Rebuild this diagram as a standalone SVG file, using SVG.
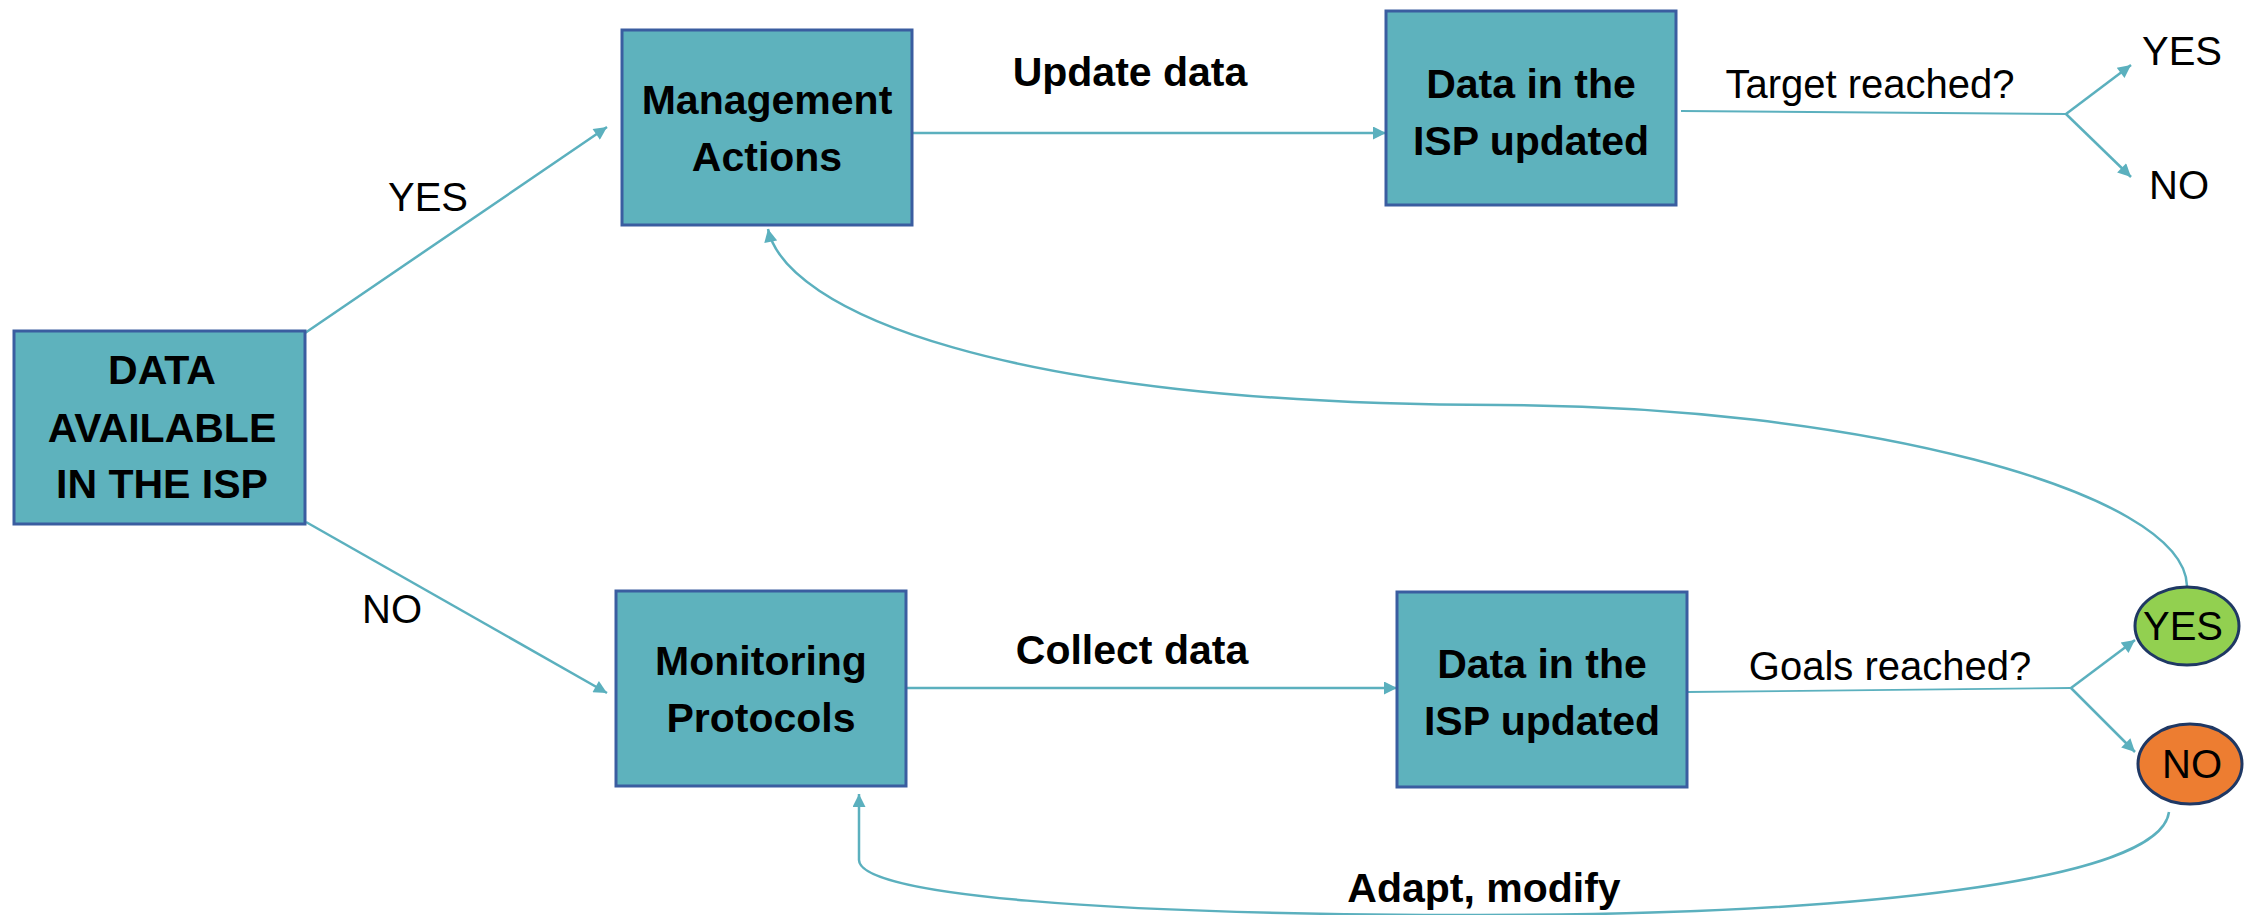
<svg xmlns="http://www.w3.org/2000/svg" width="2249" height="915" viewBox="0 0 2249 915">
<style>
.box{fill:#5EB2BD;stroke:#3A5DA0;stroke-width:3}
.b{font-family:"Liberation Sans",Arial,sans-serif;font-weight:bold;font-size:41px;fill:#000;text-anchor:middle}
.r{font-family:"Liberation Sans",Arial,sans-serif;font-size:40px;fill:#000;text-anchor:middle}
.c{fill:none;stroke:#5BB0BE;stroke-width:2.5}
.t{fill:none;stroke:#5BB0BE;stroke-width:1.8}
</style>
<defs>
<marker id="ah" viewBox="0 0 10 10" refX="10" refY="5" markerWidth="18" markerHeight="13" markerUnits="userSpaceOnUse" orient="auto">
<path d="M0,0 L10,5 L0,10 z" fill="#5BB0BE"/>
</marker>
</defs>
<rect width="2249" height="915" fill="#fff"/>
<g id="connectors">
<path class="c" d="M305,333 L607,127" marker-end="url(#ah)"/>
<path class="c" d="M306,522 L607,693" marker-end="url(#ah)"/>
<path class="c" d="M912,133 L1386,133" marker-end="url(#ah)"/>
<path class="c" d="M906,688 L1397,688" marker-end="url(#ah)"/>
<path class="t" d="M1681,111 L2066,114"/>
<path class="c" d="M2066,114 L2131,65" marker-end="url(#ah)"/>
<path class="c" d="M2066,114 L2131,177" marker-end="url(#ah)"/>
<path class="t" d="M1687,692 L2071,688"/>
<path class="c" d="M2071,688 L2135,640" marker-end="url(#ah)"/>
<path class="c" d="M2071,688 L2135,752" marker-end="url(#ah)"/>
<path class="c" d="M2187,586 C2185,490 1850,405 1500,405 C1000,405 785,310 768,229" marker-end="url(#ah)"/>
<path class="c" d="M2169,812 C2160,882 1850,915 1480,915 C1100,915 859,895 859,860 L859,794" marker-end="url(#ah)"/>
</g>
<g id="data-available">
<rect class="box" x="14" y="331" width="291" height="193"/>
<text class="b" x="162" y="384">DATA</text>
<text class="b" x="162" y="442">AVAILABLE</text>
<text class="b" x="162" y="498">IN THE ISP</text>
</g>
<g id="management-actions">
<rect class="box" x="622" y="30" width="290" height="195"/>
<text class="b" x="767" y="114">Management</text>
<text class="b" x="767" y="171">Actions</text>
</g>
<g id="monitoring-protocols">
<rect class="box" x="616" y="591" width="290" height="195"/>
<text class="b" x="761" y="675">Monitoring</text>
<text class="b" x="761" y="732">Protocols</text>
</g>
<g id="data-updated-top">
<rect class="box" x="1386" y="11" width="290" height="194"/>
<text class="b" x="1531" y="98">Data in the</text>
<text class="b" x="1531" y="155">ISP updated</text>
</g>
<g id="data-updated-bottom">
<rect class="box" x="1397" y="592" width="290" height="195"/>
<text class="b" x="1542" y="678">Data in the</text>
<text class="b" x="1542" y="735">ISP updated</text>
</g>
<g id="yes-circle">
<ellipse cx="2187" cy="626" rx="52" ry="39" fill="#92D050" stroke="#1F3864" stroke-width="3"/>
<text class="r" x="2183" y="640">YES</text>
</g>
<g id="no-circle">
<ellipse cx="2190" cy="764" rx="52" ry="40" fill="#ED7D31" stroke="#1F3864" stroke-width="3"/>
<text class="r" x="2192" y="778">NO</text>
</g>
<g id="labels">
<text class="r" x="428" y="211">YES</text>
<text class="r" x="392" y="623">NO</text>
<text class="b" x="1130" y="86">Update data</text>
<text class="b" x="1132" y="664">Collect data</text>
<text class="b" x="1484" y="902">Adapt, modify</text>
<text class="r" x="1870" y="98">Target reached?</text>
<text class="r" x="1890" y="680">Goals reached?</text>
<text class="r" x="2182" y="65">YES</text>
<text class="r" x="2179" y="199">NO</text>
</g>
</svg>
